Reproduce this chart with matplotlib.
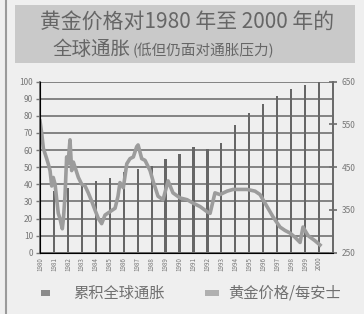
import numpy as np
import matplotlib
matplotlib.use("Agg")
import matplotlib.pyplot as plt
from matplotlib.patches import Rectangle

plt.rcParams['font.family'] = ['Noto Sans CJK SC', 'DejaVu Sans']

# cumulative global inflation (%), one bar per year
years = list(range(1980, 2001))
inflation = [25, 36, 38, 40, 42, 43.5, 47, 49, 50.5, 55, 57.5,
             62, 60.5, 64, 74.5, 81.5, 87, 91.5, 96, 98, 100]

# gold price per ounce (USD)
gold_t = [1980.00, 1980.12, 1980.24, 1980.36, 1980.48, 1980.59, 1980.72, 1980.84,
          1980.95, 1981.08, 1981.20, 1981.31, 1981.43, 1981.51, 1981.60, 1981.68,
          1981.79, 1981.91, 1982.01, 1982.15, 1982.27, 1982.39, 1982.51, 1982.75,
          1982.99, 1983.23, 1983.46, 1983.71, 1983.94, 1984.18, 1984.42, 1984.66,
          1985.02, 1985.38, 1985.59, 1985.73, 1985.97, 1986.22, 1986.45, 1986.69,
          1986.93, 1987.03, 1987.29, 1987.53, 1987.89, 1988.10, 1988.46, 1988.82,
          1989.18, 1989.53, 1990.04, 1990.54, 1990.97, 1991.47, 1991.97, 1992.19,
          1992.54, 1992.90, 1993.41, 1993.84, 1994.34, 1994.84, 1995.41, 1995.77,
          1996.27, 1996.70, 1997.20, 1997.56, 1997.92, 1998.28, 1998.64, 1998.85,
          1999.21, 1999.71, 2000.07]
gold = [558, 530, 494, 482, 470, 458, 442, 406,
        426, 410, 374, 342, 330, 318, 306, 330,
        382, 474, 458, 514, 442, 462, 450, 426,
        410, 406, 390, 370, 350, 330, 318, 338,
        346, 354, 382, 414, 402, 458, 470, 474,
        498, 502, 470, 466, 442, 418, 382, 374,
        418, 390, 378, 374, 366, 358, 346, 342,
        390, 386, 394, 398, 398, 398, 394, 386,
        358, 334, 310, 302, 296, 286, 274, 310,
        290, 278, 268]

title1 = "黄金价格对1980 年至 2000 年的"
title2a = "全球通胀"
title2b = "(低但仍面对通胀压力)"
legend_labels = ["累积全球通胀", "黄金价格/每安士"]

bg = "#efefef"
fig = plt.figure(figsize=(3.64, 3.14), dpi=100, facecolor=bg)

# title band
fig.patches.append(Rectangle((15 / 364, 1 - 63 / 314), 340 / 364, 58 / 314,
                             transform=fig.transFigure, facecolor="#c9c9c9",
                             edgecolor="none", zorder=0))
fig.add_artist(plt.Line2D([6 / 364, 6 / 364], [0, 1], transform=fig.transFigure,
                          color="#9a9a9a", lw=1.5))
fig.text(0.515, 1 - 22 / 314, title1, ha="center", va="center", fontsize=15, color="#666666")
fig.text(52 / 364, 1 - 49 / 314, title2a, ha="left", va="center", fontsize=14, color="#666666")
fig.text(133 / 364, 1 - 50 / 314, title2b, ha="left", va="center", fontsize=10.5, color="#666666")

ax = fig.add_axes([40 / 364, 1 - 252.7 / 314, 293 / 364, 171 / 314], facecolor=bg)
x = np.array(years) - 1980
ax.bar(x, inflation, width=0.16, color="#666666", zorder=2)
ax.set_ylim(0, 100)
ax.set_xlim(0, 21)
ax.set_yticks(range(0, 101, 10))
ax.yaxis.grid(True, color="#7a7a7a", lw=1.3, zorder=1)
ax.set_axisbelow(True)
ax.set_xticks(x)
ax.set_xticklabels([str(y) for y in years], rotation=90, fontsize=4.5, color="#777777")
ax.tick_params(axis="y", labelsize=6, colors="#777777", length=3, width=1, pad=2)
ax.tick_params(axis="x", length=0, pad=3)
ax.spines["top"].set_visible(False)
for s in ["left", "bottom", "right"]:
    ax.spines[s].set_color("#6a6a6a")
    ax.spines[s].set_linewidth(1.3)

ax2 = ax.twinx()
ax2.plot(np.array(gold_t) - 1980, gold, color="#9c9c9c", lw=2.6, solid_joinstyle="round")
ax2.set_ylim(250, 650)
ax2.set_yticks([250, 350, 450, 550, 650])
ax2.tick_params(axis="y", labelsize=6, colors="#777777", direction="inout", length=6, width=1.3, pad=3)
ax2.spines["top"].set_visible(False)
ax2.spines["right"].set_color("#6a6a6a")
ax2.spines["right"].set_linewidth(1.3)

# legend
fig.patches.append(Rectangle((41 / 364, 1 - 296 / 314), 9 / 364, 6 / 314,
                             transform=fig.transFigure, facecolor="#8a8a8a", edgecolor="none"))
fig.text(73 / 364, 1 - 293 / 314, legend_labels[0], ha="left", va="center", fontsize=11, color="#707070")
fig.patches.append(Rectangle((205 / 364, 1 - 296 / 314), 14 / 364, 6 / 314,
                             transform=fig.transFigure, facecolor="#b0b0b0", edgecolor="none"))
fig.text(228 / 364, 1 - 293 / 314, legend_labels[1], ha="left", va="center", fontsize=11, color="#707070")

fig.savefig("out.png", dpi=100, facecolor=bg)
